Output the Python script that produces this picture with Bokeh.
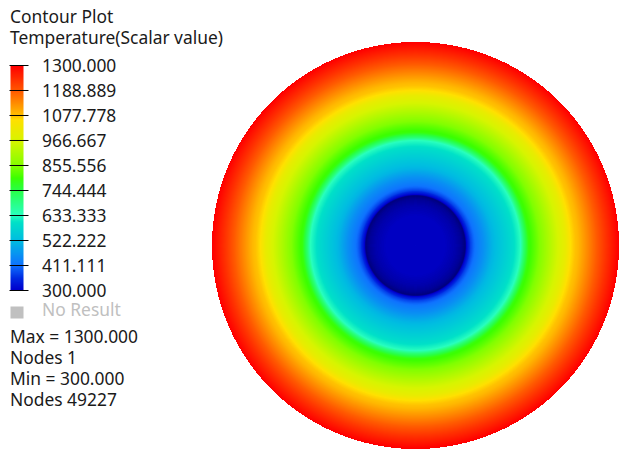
import numpy as np
from bokeh.plotting import figure
from bokeh.models import Range1d, LinearColorMapper
from bokeh.core.properties import value
from bokeh.embed import file_html
from bokeh.resources import INLINE

title_lines = ["Contour Plot", "Temperature(Scalar value)"]
legend_values = [1300.000, 1188.889, 1077.778, 966.667, 855.556, 744.444, 633.333, 522.222, 411.111, 300.000]
legend_labels = ["1300.000", "1188.889", "1077.778", "966.667", "855.556", "744.444", "633.333", "522.222", "411.111", "300.000"]
no_result = "No Result"
stats_lines = ["Max = 1300.000", "Nodes 1", "Min = 300.000", "Nodes 49227"]

# radial temperature profile of the disc
radius = [0, 30, 40, 46, 49.5, 50, 51, 52, 55, 58, 60, 64, 68, 77, 87, 97, 105, 108, 113, 120, 133, 150, 155, 163, 177, 190, 203]
temperature = [298, 297, 291, 285, 278, 282, 300, 320, 370, 400, 415, 435, 455, 510, 550, 590, 633, 700, 790, 830, 910, 1010, 1060, 1090, 1165, 1235, 1300]

# colour scale as seen in the legend (below 300 = the dark rim of the hole)
stop_values = [270, 300, 350, 411.111, 522.222, 600, 633.333, 744.444, 800, 855.556, 966.667, 1060, 1077.778, 1188.889, 1300]
stop_colors = [(0, 0, 100), (0, 0, 205), (0, 40, 225), (15, 115, 255), (0, 190, 225), (0, 225, 200), (40, 255, 190),
               (40, 255, 70), (60, 255, 0), (130, 255, 0), (215, 245, 0), (255, 225, 0), (255, 195, 0), (255, 90, 0), (255, 0, 0)]

W, H = 639, 456
FONT = value("Noto Sans")
FS = "17.4px"
TEXT = "#1a1a1a"
cx, cy, R = 415, 245, 203.5
bar_top, bar_bottom = 65, 290

grid = np.linspace(270, 1300, 1031)
chan = [np.interp(grid, stop_values, [c[i] for c in stop_colors]) for i in range(3)]
palette = ["#%02x%02x%02x" % (int(r), int(g), int(b)) for r, g, b in zip(*chan)]
mapper = LinearColorMapper(palette=palette, low=270, high=1300, nan_color=(0, 0, 0, 0))

p = figure(width=W, height=H, output_backend="svg", toolbar_location=None,
           x_range=Range1d(0, W), y_range=Range1d(H, 0),
           min_border=0, outline_line_color=None)
p.xaxis.visible = False
p.yaxis.visible = False
p.grid.visible = False
p.background_fill_color = "white"
p.border_fill_color = "white"

# temperature scale for the legend bar
per_px = (legend_values[0] - legend_values[-1]) / (bar_bottom - bar_top)
p.extra_y_ranges["temp"] = Range1d(legend_values[-1] - (H - bar_bottom) * per_px,
                                   legend_values[0] + bar_top * per_px)

# disc
n = int(2 * R)
xs = (np.arange(n) + 0.5) - n / 2
rr = np.hypot(*np.meshgrid(xs, xs))
field = np.interp(rr, radius, temperature)
field[rr > R] = np.nan
p.image(image=[field], x=cx - R, y=cy - R, dw=2 * R, dh=2 * R, color_mapper=mapper)

# legend bar
strip = np.linspace(legend_values[-1], legend_values[0], 226).reshape(-1, 1)
p.image(image=[strip], x=10, y=legend_values[-1], dw=13, dh=legend_values[0] - legend_values[-1],
        color_mapper=mapper, y_range_name="temp")
p.segment(x0=[9] * len(legend_values), x1=[28] * len(legend_values), y0=legend_values, y1=legend_values,
          line_color="black", line_width=1, y_range_name="temp")
p.text(x=[41.5] * len(legend_labels), y=legend_values, text=legend_labels, text_font=FONT, text_font_size=FS,
       text_color=TEXT, text_baseline="middle", y_range_name="temp")

# no result swatch
p.quad(left=[10], right=[23], top=[306], bottom=[318], fill_color="#c0c0c0", line_color=None)
p.text(x=[41.5], y=[308], text=[no_result], text_font=FONT, text_font_size=FS,
       text_color="#c0c0c0", text_baseline="middle")

# header and statistics
p.text(x=[9.5, 9.5], y=[15, 36], text=title_lines, text_font=FONT, text_font_size=FS,
       text_color=TEXT, text_baseline="middle")
p.text(x=[9.5] * 4, y=[335, 356, 377, 398], text=stats_lines, text_font=FONT, text_font_size=FS,
       text_color=TEXT, text_baseline="middle")

open("out.html", "w").write(file_html(p, INLINE))
